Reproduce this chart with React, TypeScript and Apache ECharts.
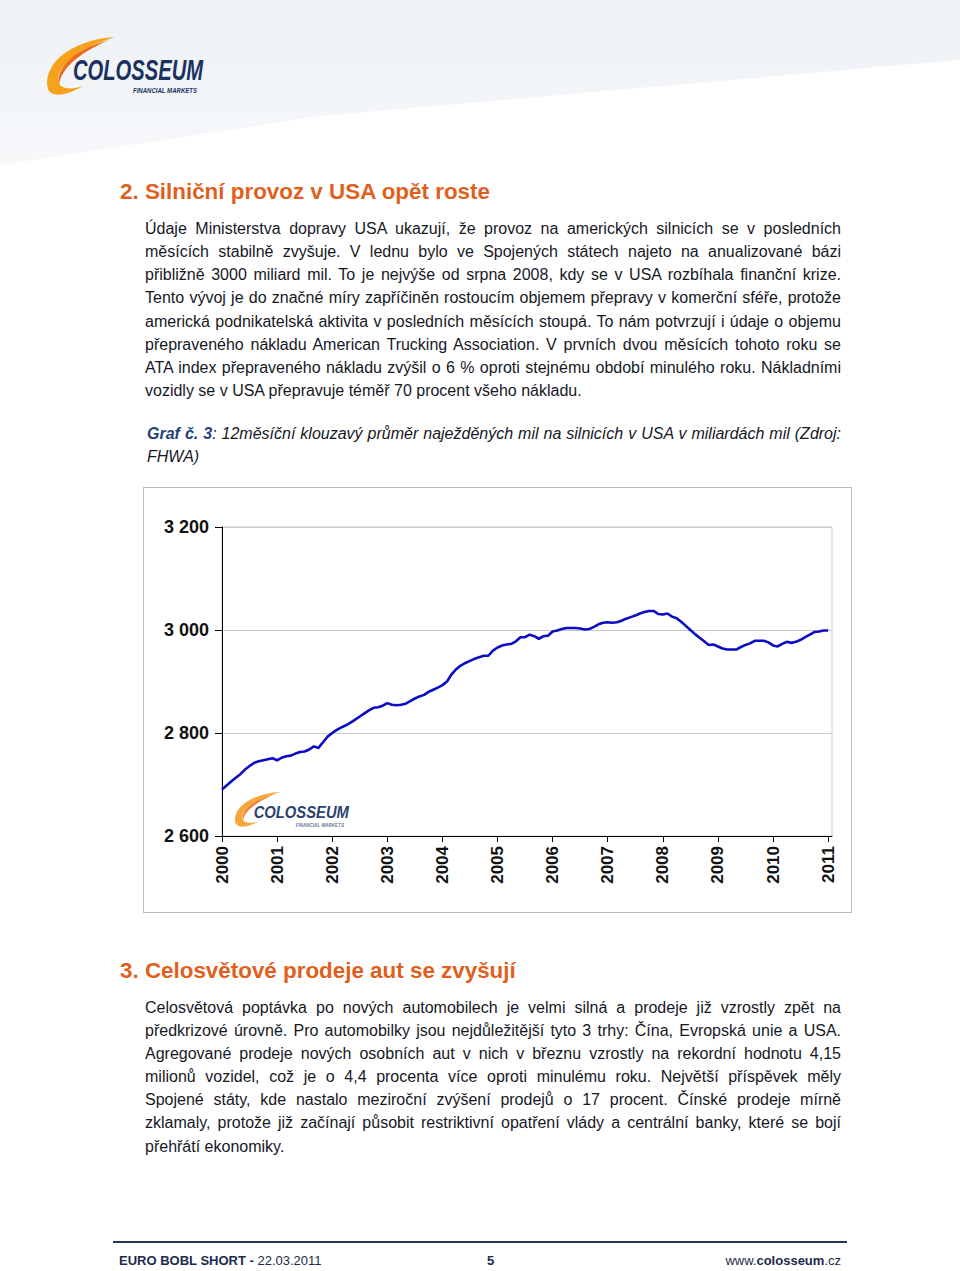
import React, { useEffect, useRef } from 'react';
import * as echarts from 'echarts';

// ---------- chart data ----------
const yearLabels = ['2000', '2001', '2002', '2003', '2004', '2005', '2006', '2007', '2008', '2009', '2010', '2011'];
const yTickLabels = ['2 600', '2 800', '3 000', '3 200'];

const v2000 = [2690, 2698, 2706, 2713, 2720, 2729, 2736, 2742, 2745, 2747, 2749, 2751];
const v2001 = [2747, 2752, 2755, 2756, 2760, 2763, 2764, 2768, 2774, 2771, 2782, 2793];
const v2002 = [2800, 2806, 2811, 2815, 2820, 2826, 2832, 2838, 2844, 2849, 2850, 2853];
const v2003 = [2858, 2855, 2854, 2855, 2857, 2862, 2867, 2871, 2874, 2880, 2884, 2888];
const v2004 = [2893, 2900, 2914, 2924, 2931, 2936, 2940, 2944, 2947, 2950, 2950, 2960];
const v2005 = [2966, 2970, 2972, 2973, 2978, 2986, 2986, 2991, 2988, 2983, 2988, 2989];
const v2006 = [2997, 2999, 3002, 3004, 3004, 3004, 3003, 3001, 3002, 3006, 3011, 3014];
const v2007 = [3015, 3014, 3015, 3018, 3022, 3025, 3028, 3032, 3035, 3037, 3037, 3031];
const v2008 = [3030, 3032, 3026, 3023, 3016, 3008, 3000, 2992, 2985, 2978, 2971, 2972];
const v2009 = [2968, 2964, 2962, 2962, 2962, 2967, 2971, 2974, 2979, 2979, 2979, 2976];
const v2010 = [2970, 2968, 2973, 2977, 2975, 2977, 2981, 2986, 2991, 2996, 2997, 2999];
const v2011 = [2999];

const yearly = [v2000, v2001, v2002, v2003, v2004, v2005, v2006, v2007, v2008, v2009, v2010, v2011];

// ---------- logo shapes ----------
const SWOOSH_OUTER =
  'M70 0 C50 1 28 8 15 20 C4 30 0 42 3 52 C6 60 20 60 38 49 C24 54 13 51 13 43 C13 32 25 20 40 12 C50 7 60 3 70 0 Z';
const SWOOSH_INNER =
  'M64 3 C46 8 31 15 22 25 C15 33 12 41 14 48 C15 39 21 30 31 22 C41 14 52 8 64 3 Z';

echarts.graphic.registerShape('swooshOuter', echarts.graphic.extendPath(SWOOSH_OUTER, {}) as any);
echarts.graphic.registerShape('swooshInner', echarts.graphic.extendPath(SWOOSH_INNER, {}) as any);

// ---------- text ----------
const para1 = [
  'Údaje Ministerstva dopravy USA ukazují, že provoz na amerických silnicích se v posledních',
  'měsících stabilně zvyšuje. V lednu bylo ve Spojených státech najeto na anualizované bázi',
  'přibližně 3000 miliard mil. To je nejvýše od srpna 2008, kdy se v USA rozbíhala finanční krize.',
  'Tento vývoj je do značné míry zapříčiněn rostoucím objemem přepravy v komerční sféře, protože',
  'americká podnikatelská aktivita v posledních měsících stoupá. To nám potvrzují i údaje o objemu',
  'přepraveného nákladu American Trucking Association. V prvních dvou měsících tohoto roku se',
  'ATA index přepraveného nákladu zvýšil o 6 % oproti stejnému období minulého roku. Nákladními',
  'vozidly se v USA přepravuje téměř 70 procent všeho nákladu.',
];

const para3 = [
  'Celosvětová poptávka po nových automobilech je velmi silná a prodeje již vzrostly zpět na',
  'předkrizové úrovně. Pro automobilky jsou nejdůležitější tyto 3 trhy: Čína, Evropská unie a USA.',
  'Agregované prodeje nových osobních aut v nich v březnu vzrostly na rekordní hodnotu 4,15',
  'milionů vozidel, což je o 4,4 procenta více oproti minulému roku. Největší příspěvek měly',
  'Spojené státy, kde nastalo meziroční zvýšení prodejů o 17 procent. Čínské prodeje mírně',
  'zklamaly, protože již začínají působit restriktivní opatření vlády a centrální banky, které se bojí',
  'přehřátí ekonomiky.',
];

const FONT = '"Liberation Sans", Arial, Helvetica, sans-serif';
const TEXT_COLOR = '#16181f';
const ORANGE = '#e05f1d';
const NAVY = '#1b3260';

function Lines({ lines, left, top, width, lh }: { lines: string[]; left: number; top: number; width: number; lh: number }) {
  return (
    <div style={{ position: 'absolute', left, top, width, fontSize: 16, lineHeight: lh + 'px', color: TEXT_COLOR }}>
      {lines.map((l, i) => {
        const last = i === lines.length - 1;
        return (
          <div
            key={i}
            style={{
              textAlign: last ? 'left' : 'justify',
              textAlignLast: last ? 'left' : 'justify',
              height: lh,
            } as any}
          >
            {l}
          </div>
        );
      })}
    </div>
  );
}

export default function App() {
  const ref = useRef<HTMLDivElement>(null);

  useEffect(() => {
    document.body.style.margin = '0';
    const chart = echarts.init(ref.current!, null, { renderer: 'svg' });

    const data: number[][] = [];
    yearly.forEach((arr, yi) => {
      arr.forEach((v, m) => {
        data.push([2000 + yi + m / 12, v]);
      });
    });
    const yearNums = yearLabels.map((y) => Number(y));

    chart.setOption({
      animation: false,
      textStyle: { fontFamily: FONT },
      grid: {
        left: 78,
        right: 19,
        top: 39,
        bottom: 76,
        show: true,
        borderColor: '#cfcfcf',
        borderWidth: 1,
        backgroundColor: 'transparent',
      },
      xAxis: {
        type: 'value',
        min: 2000,
        max: 2011.07,
        axisLine: { show: true, onZero: false, lineStyle: { color: '#000', width: 1 } },
        axisTick: { show: true, customValues: yearNums, length: 6, lineStyle: { color: '#000' } },
        axisLabel: {
          customValues: yearNums,
          rotate: 90,
          fontWeight: 'bold',
          fontSize: 17,
          color: '#111',
          margin: 10,
          fontFamily: FONT,
          formatter: (v: number) => yearLabels[Math.round(v) - 2000] ?? '',
        },
        splitLine: { show: false },
      },
      yAxis: {
        type: 'value',
        min: 2600,
        max: 3200,
        interval: 200,
        axisLine: { show: true, lineStyle: { color: '#000', width: 1 } },
        axisTick: { show: true, length: 7, lineStyle: { color: '#000' } },
        axisLabel: {
          fontWeight: 'bold',
          fontSize: 18,
          color: '#111',
          margin: 13,
          fontFamily: FONT,
          formatter: (v: number) => yTickLabels[Math.round((v - 2600) / 200)] ?? '',
        },
        splitLine: { show: true, lineStyle: { color: '#c8c8c8', width: 1 } },
      },
      graphic: [
        {
          type: 'group',
          left: 91,
          top: 304,
          z: 1,
          silent: true,
          children: [
            { type: 'swooshOuter', x: 0, y: 0, scaleX: 0.67, scaleY: 0.6, style: { fill: '#f6a83a' } },
            { type: 'swooshInner', x: 0, y: 0, scaleX: 0.67, scaleY: 0.6, style: { fill: '#ee7d2e' } },
            {
              type: 'text',
              x: 20,
              y: 20,
              scaleX: 0.87,
              style: {
                text: 'COLOSSEUM',
                x: 0,
                y: 0,
                font: 'italic bold 17px "Liberation Sans", Arial',
                fill: '#2a4270',
                verticalAlign: 'middle',
              },
            },
            {
              type: 'text',
              x: 62,
              y: 33,
              scaleX: 0.83,
              style: {
                text: 'FINANCIAL MARKETS',
                x: 0,
                y: 0,
                font: 'italic bold 5.5px "Liberation Sans", Arial',
                fill: '#6a7a98',
                verticalAlign: 'middle',
              },
            },
          ],
        },
      ],
      series: [
        {
          type: 'line',
          data,
          showSymbol: false,
          symbol: 'none',
          smooth: false,
          z: 5,
          lineStyle: { color: '#0c0cc4', width: 2.6 },
        },
      ],
    });

    return () => chart.dispose();
  }, []);

  return (
    <div
      style={{
        position: 'absolute',
        left: 0,
        top: 0,
        width: 960,
        height: 1271,
        overflow: 'hidden',
        background: '#fff',
        fontFamily: FONT,
      }}
    >
      {/* header background + logo */}
      <svg width={960} height={180} style={{ position: 'absolute', left: 0, top: 0 }}>
        <defs>
          <linearGradient id="hdr" x1="0" y1="0" x2="0" y2="1">
            <stop offset="0" stopColor="#eef1f5" />
            <stop offset="1" stopColor="#f6f8fa" />
          </linearGradient>
        </defs>
        <polygon points="0,0 960,0 960,60 640,88 320,116 0,165" fill="url(#hdr)" />
        <g transform="translate(45,37)">
          <path d={SWOOSH_OUTER} fill="#f7a21b" />
          <path d={SWOOSH_INNER} fill="#ec6a1c" />
        </g>
        <text
          transform="translate(73,79.5) scale(1,1.1)"
          x={0}
          y={0}
          fontFamily={FONT}
          fontWeight="bold"
          fontStyle="italic"
          fontSize={26}
          fill={NAVY}
          textLength={130}
          lengthAdjust="spacingAndGlyphs"
        >
          COLOSSEUM
        </text>
        <text
          x={133}
          y={93}
          fontFamily={FONT}
          fontWeight="bold"
          fontStyle="italic"
          fontSize={8}
          fill={NAVY}
          textLength={64}
          lengthAdjust="spacingAndGlyphs"
        >
          FINANCIAL MARKETS
        </text>
      </svg>

      {/* Heading 2 */}
      <div
        style={{
          position: 'absolute',
          left: 120,
          top: 178.7,
          fontSize: 22.4,
          lineHeight: '26px',
          fontWeight: 'bold',
          color: ORANGE,
          whiteSpace: 'nowrap',
        }}
      >
        2. Silniční provoz v USA opět roste
      </div>

      <Lines lines={para1} left={145} top={217.2} width={696} lh={23.1} />

      {/* caption */}
      <div
        style={{
          position: 'absolute',
          left: 147,
          top: 423,
          width: 694,
          fontSize: 16,
          lineHeight: '22.5px',
          fontStyle: 'italic',
          color: TEXT_COLOR,
        }}
      >
        <div style={{ textAlign: 'justify', textAlignLast: 'justify', height: 22.5 } as any}>
          <b style={{ color: '#1f3f7a' }}>Graf č. 3</b>: 12měsíční klouzavý průměr naježděných mil na silnicích v USA v
          miliardách mil (Zdroj:
        </div>
        <div>FHWA)</div>
      </div>

      {/* chart frame */}
      <div
        style={{
          position: 'absolute',
          left: 143,
          top: 487,
          width: 709,
          height: 426,
          border: '1px solid #bdbdbd',
          boxSizing: 'border-box',
        }}
      />
      <div ref={ref} style={{ position: 'absolute', left: 144, top: 488, width: 707, height: 424 }} />

      {/* Heading 3 */}
      <div
        style={{
          position: 'absolute',
          left: 120,
          top: 957.7,
          fontSize: 22.4,
          lineHeight: '26px',
          fontWeight: 'bold',
          color: ORANGE,
          whiteSpace: 'nowrap',
        }}
      >
        3. Celosvětové prodeje aut se zvyšují
      </div>

      <Lines lines={para3} left={145} top={996} width={696} lh={23.1} />

      {/* footer */}
      <div style={{ position: 'absolute', left: 113, top: 1241, width: 734, height: 2, background: '#27385a' }} />
      <div
        style={{
          position: 'absolute',
          left: 119,
          top: 1253,
          fontSize: 13,
          lineHeight: '16px',
          color: '#1b2b4b',
          whiteSpace: 'nowrap',
        }}
      >
        <b>EURO BOBL SHORT - </b>22.03.2011
      </div>
      <div
        style={{
          position: 'absolute',
          left: 487,
          top: 1253,
          fontSize: 13,
          lineHeight: '16px',
          color: '#1b2b4b',
          fontWeight: 'bold',
        }}
      >
        5
      </div>
      <div
        style={{
          position: 'absolute',
          right: 119,
          top: 1253,
          fontSize: 13,
          lineHeight: '16px',
          color: '#1b2b4b',
          whiteSpace: 'nowrap',
        }}
      >
        www.<b>colosseum</b>.cz
      </div>
    </div>
  );
}
